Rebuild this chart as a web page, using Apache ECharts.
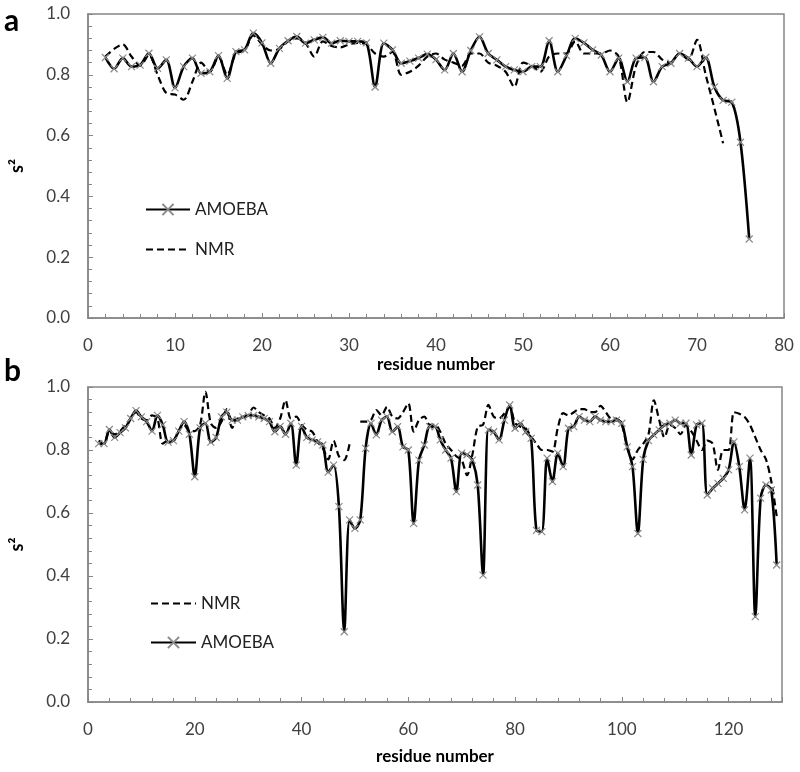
<!DOCTYPE html>
<html><head><meta charset="utf-8">
<script src="https://cdn.jsdelivr.net/npm/echarts@6/dist/echarts.min.js"></script>
<style>html,body{margin:0;padding:0;background:#fff}#c{width:800px;height:772px}</style>
</head><body><div id="c"></div>
<script>
// Panel a
const resA = Array.from({length: 75}, (_, i) => i + 2); // 2..76
const amoebaA = [0.857,0.82,0.855,0.827,0.832,0.871,0.821,0.849,0.757,0.827,0.855,0.805,0.81,0.863,0.788,0.876,0.882,0.937,0.905,0.838,0.887,0.912,0.926,0.904,0.915,0.923,0.904,0.912,0.91,0.91,0.905,0.76,0.904,0.882,0.838,0.845,0.855,0.868,0.85,0.816,0.87,0.81,0.88,0.925,0.87,0.849,0.827,0.816,0.81,0.827,0.827,0.912,0.81,0.863,0.92,0.905,0.882,0.865,0.81,0.855,0.777,0.855,0.857,0.777,0.827,0.838,0.87,0.855,0.827,0.857,0.76,0.716,0.71,0.578,0.26];
const resNmrA = Array.from({length: 72}, (_, i) => i + 2); // 2..73
const nmrA = [0.86,0.885,0.9,0.86,0.83,0.865,0.8,0.74,0.735,0.718,0.777,0.84,0.81,0.86,0.8,0.87,0.88,0.93,0.9,0.88,0.885,0.91,0.92,0.905,0.86,0.91,0.895,0.89,0.9,0.905,0.9,0.87,0.86,0.875,0.8,0.81,0.83,0.86,0.87,0.85,0.84,0.83,0.87,0.87,0.84,0.83,0.81,0.76,0.84,0.83,0.81,0.86,0.87,0.87,0.91,0.87,0.87,0.87,0.88,0.86,0.71,0.83,0.875,0.875,0.85,0.84,0.87,0.85,0.915,0.8,0.69,0.575];
// Panel b
const resB = Array.from({length: 128}, (_, i) => i + 2); // 2..129
const amoebaB = [0.82,0.82,0.865,0.84,0.855,0.87,0.9,0.925,0.905,0.89,0.86,0.91,0.88,0.825,0.83,0.86,0.89,0.85,0.715,0.87,0.885,0.825,0.84,0.905,0.92,0.895,0.895,0.905,0.91,0.91,0.905,0.9,0.89,0.858,0.875,0.85,0.885,0.752,0.875,
0.84,0.832,0.826,0.816,0.73,0.752,0.62,0.223,0.578,0.551,0.578,0.805,0.885,0.848,0.895,0.906,0.858,0.874,0.81,0.8,0.567,0.768,0.816,0.874,0.874,0.832,0.8,0.774,0.668,0.79,0.785,0.768,0.689,0.403,0.864,0.858,0.832,0.895,0.943,0.869,0.885,
0.858,0.837,0.545,0.541,0.774,0.7,0.79,0.747,0.869,0.874,0.906,0.895,0.89,0.906,0.895,0.89,0.89,0.895,0.885,0.81,0.747,0.535,0.77,0.83,0.848,0.864,0.88,0.885,0.895,0.885,0.885,0.784,0.88,0.885,0.657,0.678,0.694,0.71,0.737,0.826,0.747,0.61,0.774,0.271,0.647,0.689,0.673,0.435];
const nmrB = [0.83,0.82,0.86,0.85,0.86,0.88,0.9,0.92,0.9,0.895,0.91,0.9,0.82,0.83,0.83,0.86,0.88,0.86,0.86,0.88,0.985,0.885,0.87,0.89,0.93,0.87,0.9,0.9,0.91,0.935,0.92,0.91,0.9,0.87,0.9,0.958,0.9,0.906,0.88,
0.864,0.858,0.826,0.805,0.77,0.83,0.78,0.768,0.82,null,0.89,0.89,0.895,0.927,0.91,0.937,0.906,0.9,0.92,0.948,0.858,0.895,0.906,0.88,0.88,0.858,0.82,0.8,0.78,0.768,0.72,0.785,0.874,0.88,0.943,0.906,0.9,0.916,0.937,0.885,0.874,
0.869,0.842,0.82,0.8,0.8,0.795,0.87,0.917,0.91,0.92,0.93,0.93,0.92,0.92,0.94,0.92,0.9,0.9,0.88,0.81,0.77,0.8,0.82,0.85,0.958,0.895,0.84,0.88,0.87,0.85,0.88,0.86,0.83,0.8,0.83,0.82,0.737,0.8,0.8,0.92,0.915,0.905,0.88,0.84,0.8,0.77,0.7,0.59];
const yTicks = [0, 0.2, 0.4, 0.6, 0.8, 1.0];

const pair = (xs, ys) => xs.map((x, i) => [x, ys[i] == null ? null : ys[i]]);
const FONT = 'Lato';
const axisGray = '#868686';
const labelColor = '#404040';
const crossSym = 'path://M0,0L10,10M10,0L0,10';

function amoebaSeries(xi, data) {
  return {
    name: 'AMOEBA', type: 'line', xAxisIndex: xi, yAxisIndex: xi,
    data: data, smooth: 0.3, symbol: crossSym, symbolSize: 7, showSymbol: true,
    lineStyle: {color: '#000', width: 2.6},
    itemStyle: {color: '#8a8a8a', borderColor: '#8a8a8a', borderWidth: 1.2},
    emphasis: {disabled: true}, z: 3
  };
}
function nmrSeries(xi, data) {
  return {
    name: 'NMR', type: 'line', xAxisIndex: xi, yAxisIndex: xi,
    data: data, smooth: 0.3, symbol: 'none', connectNulls: false,
    lineStyle: {color: '#000', width: 2.2, type: [7, 4]},
    itemStyle: {color: '#000'},
    emphasis: {disabled: true}, z: 2
  };
}
function xAxis(gi, max, interval, gap) {
  return {
    type: 'value', gridIndex: gi, min: 0, max: max, interval: interval,
    name: 'residue number', nameLocation: 'middle', nameGap: gap,
    nameTextStyle: {fontFamily: FONT, fontWeight: 'bold', fontSize: 17, color: '#000'},
    axisLine: {show: true, lineStyle: {color: axisGray, width: 1.5}},
    axisTick: {show: true, inside: true, length: 5, lineStyle: {color: axisGray}},
    minorTick: {show: true, splitNumber: 5, length: 4, lineStyle: {color: axisGray}},
    splitLine: {show: false},
    axisLabel: {fontFamily: FONT, fontSize: 17, color: labelColor, margin: 19, showMaxLabel: max === 80}
  };
}
function yAxis(gi) {
  return {
    type: 'value', gridIndex: gi, min: 0, max: 1.0, interval: 0.2,
    name: 's²', nameLocation: 'middle', nameGap: 62, nameRotate: 90,
    nameTextStyle: {fontFamily: FONT, fontWeight: 'bold', fontSize: 18, color: '#000'},
    axisLine: {show: true, lineStyle: {color: axisGray, width: 1.5}},
    axisTick: {show: true, inside: true, length: 5, lineStyle: {color: axisGray}},
    minorTick: {show: true, splitNumber: 5, length: 4, lineStyle: {color: axisGray}},
    splitLine: {show: false},
    axisLabel: {fontFamily: FONT, fontSize: 17, color: labelColor, margin: 18,
      formatter: v => yTicks.includes(Math.round(v*10)/10) ? v.toFixed(1) : ''}
  };
}

const legendText = {fontFamily: FONT, fontSize: 17, color: '#222'};
const chart = echarts.init(document.getElementById('c'), null, {renderer: 'canvas'});
chart.setOption({
  animation: false,
  backgroundColor: '#fff',
  grid: [
    {left: 82, top: 14, width: 702, height: 304, show: true, borderColor: axisGray, borderWidth: 1.5, containLabel: false},
    {left: 81.5, top: 387, width: 700.5, height: 315, show: true, borderColor: axisGray, borderWidth: 1.5, containLabel: false}
  ],
  xAxis: [xAxis(0, 80, 10, 38), xAxis(1, 130, 20, 46)],
  yAxis: [yAxis(0), yAxis(1)],
  legend: [
    {data: ['AMOEBA', {name: 'NMR', itemStyle: {opacity: 0}}], orient: 'vertical', left: 140, top: 196, itemWidth: 44, itemHeight: 14, itemGap: 23,
      textStyle: legendText, selectedMode: false},
    {data: [{name: 'NMR', itemStyle: {opacity: 0}}, 'AMOEBA'], orient: 'vertical', left: 145, top: 590, itemWidth: 45, itemHeight: 14, itemGap: 22,
      textStyle: legendText, selectedMode: false}
  ],
  graphic: [
    {type: 'text', left: 4, top: 6, style: {text: 'a', font: 'bold 30px ' + FONT, fill: '#000'}},
    {type: 'text', left: 4, top: 356, style: {text: 'b', font: 'bold 30px ' + FONT, fill: '#000'}}
  ],
  series: [
    amoebaSeries(0, pair(resA, amoebaA)),
    nmrSeries(0, pair(resNmrA, nmrA)),
    nmrSeries(1, pair(resB, nmrB)),
    amoebaSeries(1, pair(resB, amoebaB))
  ]
});
</script></body></html>
